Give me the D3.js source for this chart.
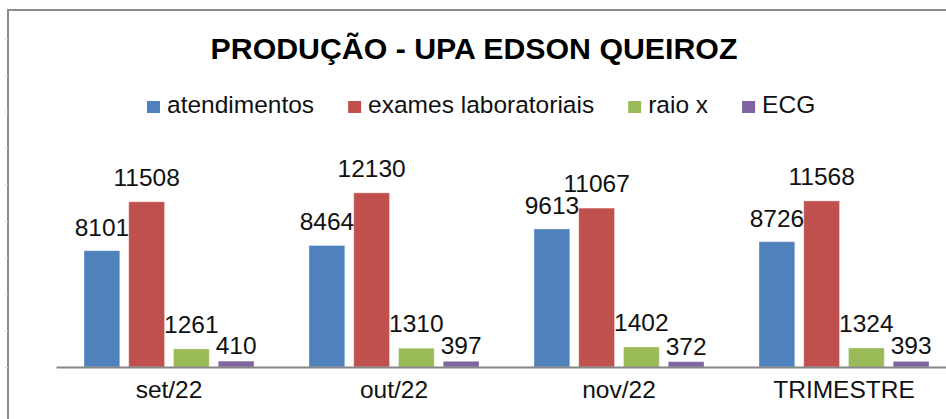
<!DOCTYPE html>
<html>
<head>
<meta charset="utf-8">
<script src="https://cdn.jsdelivr.net/npm/d3@7"></script>
<style>
  html, body { margin: 0; padding: 0; background: #fff; }
  svg { display: block; font-family: "Liberation Sans", Arial, sans-serif; }
</style>
</head>
<body>
<svg id="chart" width="946" height="419"></svg>
<script>
const categories = ["set/22", "out/22", "nov/22", "TRIMESTRE"];
const seriesNames = ["atendimentos", "exames laboratoriais", "raio x", "ECG"];
const atendimentos = [8101, 8464, 9613, 8726];
const exames = [11508, 12130, 11067, 11568];
const raioX = [1261, 1310, 1402, 1324];
const ecg = [410, 397, 372, 393];
const title = "PRODUÇÃO - UPA EDSON QUEIROZ";

const seriesValues = [atendimentos, exames, raioX, ecg];
const colors = ["#4F81BD", "#C0504D", "#9BBB59", "#8064A2"];
const labelGap = [15, 16, 16, 7];

const width = 946, height = 419;
const margin = { top: 166, right: -10, bottom: 52, left: 56.5 };

const svg = d3.select("svg#chart");

// chart frame (cropped on right and bottom)
svg.append("path")
    .attr("d", `M8,${height + 5} L8,10 L${width + 5},10`)
    .attr("fill", "none")
    .attr("stroke", "#8c8c8c")
    .attr("stroke-width", 2);

// faint sheet ticks outside the frame
const sheetY = d3.scaleLinear().domain([0, 9]).range([367, 38.5]);
svg.append("g")
    .attr("transform", "translate(8,0)")
    .call(d3.axisLeft(sheetY).ticks(9).tickSize(3).tickFormat(""))
    .call(g => g.select(".domain").remove())
    .call(g => g.selectAll(".tick line").attr("stroke", "#d4d4d4"));

// title
svg.append("text")
    .attr("x", 474)
    .attr("y", 59)
    .attr("text-anchor", "middle")
    .attr("font-size", 30.3)
    .attr("font-weight", 700)
    .attr("fill", "#000")
    .text(title);

// legend
const legend = svg.append("g").attr("transform", "translate(147,0)");
let lx = 0;
seriesNames.forEach((name, i) => {
    const item = legend.append("g").attr("transform", `translate(${lx},0)`);
    item.append("rect")
        .attr("x", 0).attr("y", 101)
        .attr("width", 13).attr("height", 12)
        .attr("fill", colors[i]);
    const t = item.append("text")
        .attr("x", 20).attr("y", 113)
        .attr("font-size", 24.5)
        .attr("fill", "#111")
        .text(name);
    lx += 20 + t.node().getComputedTextLength() + 34;
});

// scales
const x0 = d3.scaleBand()
    .domain(categories)
    .range([margin.left, margin.left + 900])
    .paddingInner(0.2444)
    .paddingOuter(0.1222);

const x1 = d3.scaleBand()
    .domain(d3.range(seriesNames.length))
    .range([0, x0.bandwidth()])
    .paddingInner(0.2);

const y = d3.scaleLinear()
    .domain([0, 14000])
    .range([height - margin.bottom, margin.top]);

// bars
const groups = svg.append("g").selectAll("g")
    .data(categories)
    .join("g")
    .attr("transform", d => `translate(${x0(d)},0)`);

groups.selectAll("rect")
    .data((c, ci) => seriesValues.map((vals, si) => ({ si, v: vals[ci] })))
    .join("rect")
    .attr("x", d => x1(d.si))
    .attr("y", d => y(d.v))
    .attr("width", x1.bandwidth())
    .attr("height", d => y(0) - y(d.v))
    .attr("fill", d => colors[d.si])
    .attr("stroke", "#fff")
    .attr("stroke-opacity", 0.35)
    .attr("stroke-width", 1);

groups.selectAll("text")
    .data((c, ci) => seriesValues.map((vals, si) => ({ si, v: vals[ci] })))
    .join("text")
    .attr("x", d => x1(d.si) + x1.bandwidth() / 2)
    .attr("y", d => y(d.v) - labelGap[d.si])
    .attr("text-anchor", "middle")
    .attr("font-size", 24.5)
    .attr("fill", "#111")
    .text(d => d.v);

// x axis
svg.append("g")
    .attr("transform", `translate(0,${y(0)})`)
    .call(d3.axisBottom(x0).tickSize(0).tickSizeOuter(0).tickPadding(14))
    .call(g => g.select(".domain")
        .attr("d", `M${margin.left},0.5H${width + 5}`)
        .attr("stroke", "#868686")
        .attr("stroke-width", 2))
    .call(g => g.selectAll(".tick text")
        .attr("font-size", 24.5)
        .attr("font-family", "Liberation Sans, Arial, sans-serif")
        .attr("fill", "#111")
        .attr("dy", "0.71em"));
</script>
</body>
</html>
